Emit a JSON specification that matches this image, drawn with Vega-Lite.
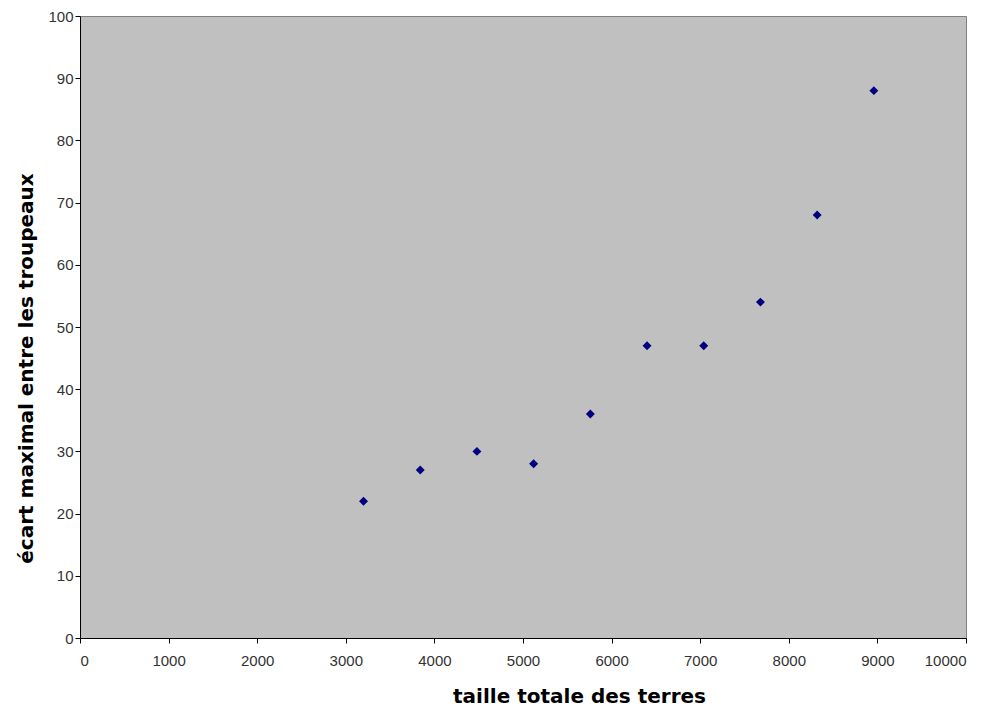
{
  "$schema": "https://vega.github.io/schema/vega-lite/v6.json",
  "autosize": "none",
  "width": 886,
  "height": 622,
  "padding": {"left": 80, "top": 16, "right": 27, "bottom": 68},
  "background": "white",
  "config": {
    "view": {"fill": "#C0C0C0", "stroke": "#808080", "strokeWidth": 1},
    "axis": {
      "grid": false,
      "domainColor": "black",
      "tickColor": "black",
      "tickSize": 5,
      "labelFont": "Liberation Sans",
      "labelFontSize": 15,
      "labelColor": "#333333",
      "titleFont": "DejaVu Sans",
      "titleFontSize": 20,
      "titleFontWeight": "bold",
      "titleColor": "black"
    }
  },
  "data": {
    "values": [
      {"taille": 3200, "ecart": 22},
      {"taille": 3840, "ecart": 27},
      {"taille": 4480, "ecart": 30},
      {"taille": 5120, "ecart": 28},
      {"taille": 5760, "ecart": 36},
      {"taille": 6400, "ecart": 47},
      {"taille": 7040, "ecart": 47},
      {"taille": 7680, "ecart": 54},
      {"taille": 8320, "ecart": 68},
      {"taille": 8960, "ecart": 88}
    ]
  },
  "mark": {"type": "point", "shape": "diamond", "filled": true, "color": "#000080", "size": 80, "opacity": 1},
  "encoding": {
    "x": {
      "field": "taille", "type": "quantitative",
      "scale": {"domain": [0, 10000], "nice": false},
      "axis": {"values": [0,1000,2000,3000,4000,5000,6000,7000,8000,9000,10000], "title": "taille totale des terres", "labelPadding": 10, "titleX": 499, "titleY": 64, "titleBaseline": "alphabetic", "format": "d"}
    },
    "y": {
      "field": "ecart", "type": "quantitative",
      "scale": {"domain": [0, 100], "nice": false},
      "axis": {"values": [0,10,20,30,40,50,60,70,80,90,100], "title": "écart maximal entre  les troupeaux", "labelPadding": 2, "titleX": -54, "titleY": 352, "titleBaseline": "middle"}
    }
  }
}
